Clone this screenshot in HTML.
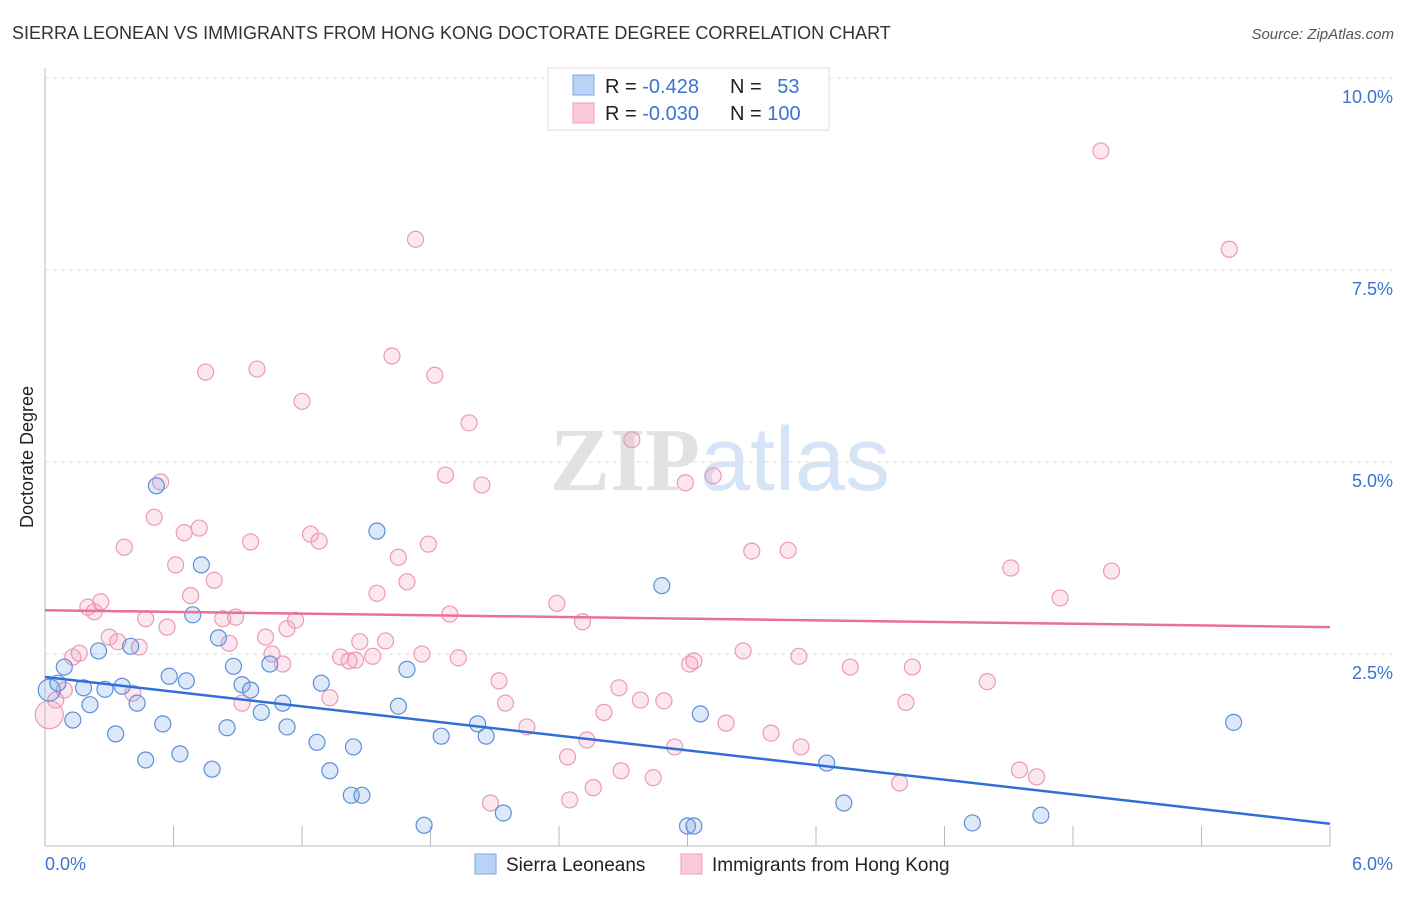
<!DOCTYPE html>
<html><head><meta charset="utf-8">
<style>
body{margin:0;background:#fff;font-family:"Liberation Sans",sans-serif;}
svg text{font-family:"Liberation Sans",sans-serif;}
</style></head>
<body>
<svg id="chart" width="1406" height="892" xmlns="http://www.w3.org/2000/svg">
<text x="12" y="39" font-size="18" fill="#333">SIERRA LEONEAN VS IMMIGRANTS FROM HONG KONG DOCTORATE DEGREE CORRELATION CHART</text>
<text x="1394" y="39" font-size="15" fill="#555" text-anchor="end" font-style="italic">Source: ZipAtlas.com</text>
<text x="720" y="490" font-size="90" text-anchor="middle"><tspan fill="#e2e2e2" font-family="Liberation Serif" font-weight="bold">ZIP</tspan><tspan fill="#d6e5f6">atlas</tspan></text>
<text transform="translate(33,457) rotate(-90)" font-size="18" fill="#222" text-anchor="middle">Doctorate Degree</text>
<g id="grid"></g><g id="axes"></g><g id="marks"></g>
<g>
<rect x="548" y="68" width="281" height="62" fill="#fff" stroke="#ddd"/>
<rect x="573" y="75" width="21" height="20" fill="#b8d3f5" stroke="#7aa7e6"/>
<rect x="573" y="103" width="21" height="20" fill="#fbc9d8" stroke="#ec9db8"/>
<text x="605" y="93" font-size="20" fill="#222">R = <tspan fill="#3a74d0">-0.428</tspan></text>
<text x="730" y="93" font-size="20" fill="#222">N = <tspan fill="#3a74d0" dx="10">53</tspan></text>
<text x="605" y="120" font-size="20" fill="#222">R = <tspan fill="#3a74d0">-0.030</tspan></text>
<text x="730" y="120" font-size="20" fill="#222">N = <tspan fill="#3a74d0">100</tspan></text>
</g>
<g>
<rect x="475" y="854" width="21" height="20" fill="#b8d3f5" stroke="#7aa7e6"/>
<text x="506" y="871" font-size="19" fill="#222">Sierra Leoneans</text>
<rect x="681" y="854" width="21" height="20" fill="#fbc9d8" stroke="#ec9db8"/>
<text x="712" y="871" font-size="19" fill="#222">Immigrants from Hong Kong</text>
</g>
</svg>
<script>
const yTicks=[2.5,5,7.5,10];
const yTickLabels=["2.5%","5.0%","7.5%","10.0%"];
const xTickCount=10;
const blueX=[0.02,0.06,0.09,0.13,0.18,0.21,0.25,0.28,0.33,0.36,0.40,0.43,0.47,0.52,0.55,0.58,0.63,0.66,0.69,0.73,0.78,0.81,0.85,0.88,0.92,0.96,1.01,1.05,1.11,1.13,1.27,1.29,1.33,1.43,1.44,1.48,1.55,1.65,1.69,1.77,1.85,2.02,2.06,2.14,2.88,3.00,3.03,3.06,3.65,3.73,4.33,4.65,5.55];
const blueY=[2.03,2.12,2.33,1.64,2.06,1.84,2.54,2.04,1.46,2.08,2.60,1.86,1.12,4.69,1.59,2.21,1.20,2.15,3.01,3.66,1.00,2.71,1.54,2.34,2.10,2.03,1.74,2.37,1.86,1.55,1.35,2.12,0.98,0.66,1.29,0.66,4.10,1.82,2.30,0.27,1.43,1.59,1.43,0.43,3.39,0.26,0.26,1.72,1.08,0.56,0.30,0.40,1.61];
const pinkX=[0.02,0.05,0.09,0.13,0.16,0.20,0.23,0.26,0.30,0.34,0.37,0.41,0.44,0.47,0.51,0.54,0.57,0.61,0.65,0.68,0.72,0.75,0.79,0.83,0.86,0.89,0.92,0.96,0.99,1.03,1.06,1.11,1.13,1.17,1.20,1.24,1.28,1.33,1.38,1.42,1.45,1.47,1.53,1.55,1.59,1.62,1.65,1.69,1.73,1.76,1.79,1.82,1.87,1.89,1.93,1.98,2.04,2.08,2.12,2.15,2.25,2.39,2.44,2.45,2.51,2.53,2.56,2.61,2.68,2.69,2.74,2.78,2.84,2.89,2.94,2.99,3.01,3.03,3.12,3.18,3.26,3.30,3.39,3.47,3.52,3.53,3.76,3.99,4.02,4.05,4.40,4.51,4.55,4.63,4.74,4.93,4.98,5.53];
const pinkY=[1.71,1.90,2.03,2.46,2.51,3.11,3.05,3.18,2.72,2.66,3.89,1.99,2.59,2.96,4.28,4.74,2.85,3.66,4.08,3.26,4.14,6.17,3.46,2.96,2.64,2.98,1.86,3.96,6.21,2.72,2.50,2.37,2.83,2.94,5.79,4.06,3.97,1.93,2.46,2.41,2.42,2.66,2.47,3.29,2.67,6.38,3.76,3.44,7.90,2.50,3.93,6.13,4.83,3.02,2.45,5.51,4.70,0.56,2.15,1.86,1.55,3.16,1.16,0.60,2.92,1.38,0.76,1.74,2.06,0.98,5.29,1.90,0.89,1.89,1.29,4.73,2.37,2.41,4.82,1.60,2.54,3.84,1.47,3.85,2.47,1.29,2.33,0.82,1.87,2.33,2.14,3.62,0.99,0.90,3.23,9.05,3.58,7.77];
const blueTrend=[2.20,0.29];
const pinkTrend=[3.07,2.85];
const X0=45,X1=1330,Y0=846,PY=76.8;
const sx=v=>X0+(v/6)*(X1-X0);
const sy=v=>Y0-v*PY;
const NS="http://www.w3.org/2000/svg";
function mk(tag,attrs,parent){const e=document.createElementNS(NS,tag);for(const k in attrs)e.setAttribute(k,attrs[k]);parent.appendChild(e);return e;}
const grid=document.getElementById('grid'),axes=document.getElementById('axes'),marks=document.getElementById('marks');
yTicks.forEach((t,i)=>{
  const l=mk('line',{x1:X0,x2:1394,y1:sy(t),y2:sy(t),stroke:'#ddd','stroke-dasharray':'4,4'},grid);
  
  
  const tx=mk('text',{x:1393,y:sy(t)+25,'font-size':18,fill:'#3a74d0','text-anchor':'end'},axes);
  tx.textContent=yTickLabels[i];
  
  
});
let a=mk('line',{x1:X0,x2:X0,y1:68,y2:Y0,stroke:'#bbb'},axes);


a=mk('line',{x1:X0,x2:X1,y1:Y0,y2:Y0,stroke:'#bbb'},axes);


for(let i=0;i<=xTickCount;i++){
  const x=sx(i*6/xTickCount);
  const t=mk('line',{x1:x,x2:x,y1:Y0-20,y2:Y0,stroke:'#bbb'},axes);
  
  
}
let xl=mk('text',{x:45,y:870,'font-size':18,fill:'#3a74d0'},axes);xl.textContent='0.0%';


xl=mk('text',{x:1393,y:870,'font-size':18,fill:'#3a74d0','text-anchor':'end'},axes);xl.textContent='6.0%';


pinkX.forEach((x,i)=>{
  const c=mk('circle',{cx:sx(x),cy:sy(pinkY[i]),r:i===0?14:8,fill:'rgba(246,160,190,0.25)',stroke:'#eb9ab6','stroke-width':1.2},marks);
  
  
});
blueX.forEach((x,i)=>{
  const c=mk('circle',{cx:sx(x),cy:sy(blueY[i]),r:i===0?11:8,fill:'rgba(120,165,230,0.25)',stroke:'#5d8fd8','stroke-width':1.2},marks);
  
  
});
let tl=mk('line',{x1:sx(0),x2:sx(6),y1:sy(pinkTrend[0]),y2:sy(pinkTrend[1]),stroke:'#e8709a','stroke-width':2.5},marks);


tl=mk('line',{x1:sx(0),x2:sx(6),y1:sy(blueTrend[0]),y2:sy(blueTrend[1]),stroke:'#2f6fd6','stroke-width':2.5},marks);


</script>
</body></html>
